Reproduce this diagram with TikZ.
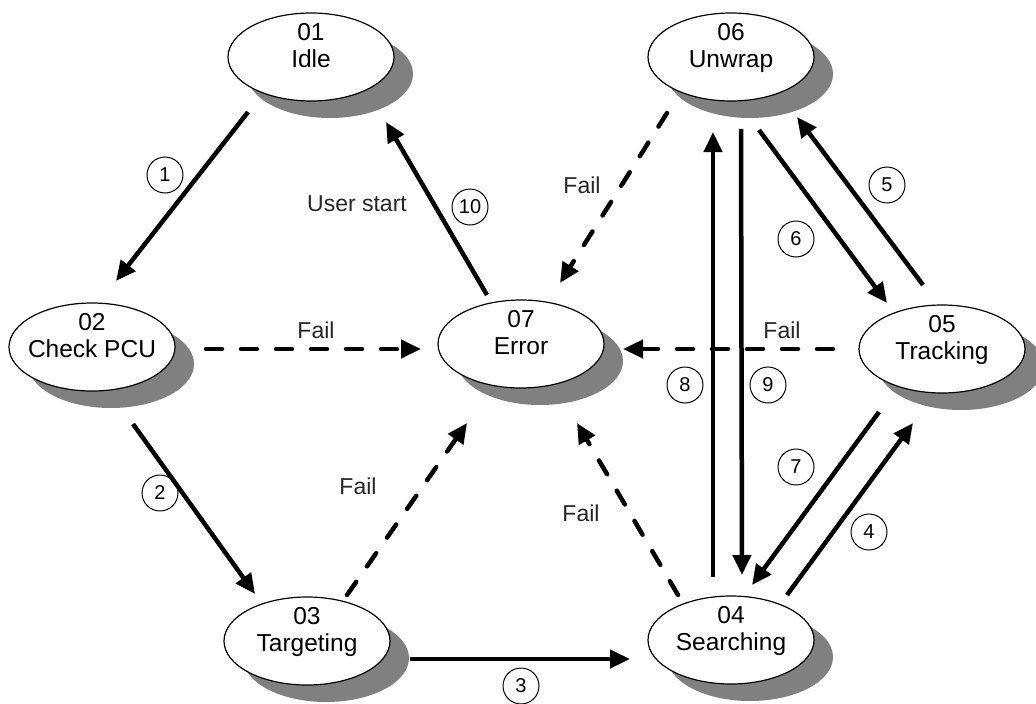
\documentclass[tikz,border=0pt]{standalone}
\usepackage{fontspec}
\setmainfont{Liberation Sans}
\usetikzlibrary{arrows.meta,shapes.geometric,shadows}
\definecolor{shadowgray}{HTML}{808080}
\begin{document}
\begin{tikzpicture}[x=1pt,y=-1pt,
  state/.style={ellipse,draw=black,line width=1.2pt,fill=white,minimum width=166pt,minimum height=88pt,inner sep=0pt,
    drop shadow={shadow xshift=19pt,shadow yshift=-17pt,fill=shadowgray,opacity=1}},
  stext/.style={align=center,font=\fontsize{24.5}{27}\selectfont,text depth=0pt,inner sep=0pt},
  arr/.style={line width=4.5pt,-{Triangle[length=20pt,width=18pt]}},
  darr/.style={arr,line cap=round,dash pattern=on 16pt off 19pt},
  num/.style={circle,draw=black,line width=1pt,minimum size=36pt,inner sep=0pt,font=\fontsize{20}{24}\selectfont},
  lbl/.style={font=\fontsize{23}{27}\selectfont,text=black!85,inner sep=0pt}]
\useasboundingbox (0,0) rectangle (1036,704);

% states
\node[state] (idle)   at (311,57)  {};
\node[state] (check)  at (92,347)  {};
\node[state] (error)  at (521,344) {};
\node[state] (unwrap) at (731,57)  {};
\node[state] (track)  at (942,349) {};
\node[state] (target) at (307,641) {};
\node[state] (search) at (731,640) {};

\node[stext] (idlet)   at ([yshift=12pt]idle.center)   {01\\Idle};
\node[stext] (checkt)  at ([yshift=12pt]check.center)  {02\\Check PCU};
\node[stext] (errort)  at ([yshift=12pt]error.center)  {07\\Error};
\node[stext] (unwrapt) at ([yshift=12pt]unwrap.center) {06\\Unwrap};
\node[stext] (trackt)  at ([yshift=12pt]track.center)  {05\\Tracking};
\node[stext] (targett) at ([yshift=12pt]target.center) {03\\Targeting};
\node[stext] (searcht) at ([yshift=12pt]search.center) {04\\Searching};

% solid transitions
\draw[arr] ([shift={(-63,55)}]idle.center) -- ([shift={(24,-66)}]check.center);
\draw[arr] ([shift={(-34,-49)}]error.center) -- ([shift={(75,65)}]idle.center);
\draw[arr] ([shift={(41,77)}]check.center) -- ([shift={(-52,-47)}]target.center);
\draw[arr] ([shift={(103,18)}]target.center) -- ([shift={(-101,19)}]search.center);
\draw[arr] ([shift={(-18,-63)}]search.center) -- ([shift={(-18,75)}]unwrap.center);
\draw[arr] ([shift={(10,72)}]unwrap.center) -- ([shift={(11,-65)}]search.center);
\draw[arr] ([shift={(28,73)}]unwrap.center) -- ([shift={(-55,-46)}]track.center);
\draw[arr] ([shift={(-19,-64)}]track.center) -- ([shift={(66,60)}]unwrap.center);
\draw[arr] ([shift={(-63,63)}]track.center) -- ([shift={(21,-55)}]search.center);
\draw[arr] ([shift={(56,-45)}]search.center) -- ([shift={(-29,74)}]track.center);

% fail transitions
\draw[darr] ([shift={(114,2)}]check.center) -- ([shift={(-100,5)}]error.center);
\draw[darr] ([shift={(40,-46)}]target.center) -- ([shift={(-54,79)}]error.center);
\draw[darr] ([shift={(-53,-45)}]search.center) -- ([shift={(56,79)}]error.center);
\draw[darr] ([shift={(-64,56)}]unwrap.center) -- ([shift={(39,-61)}]error.center);
\draw[darr] ([shift={(-109,0)}]track.center) -- ([shift={(102,5)}]error.center);

% numbers
\node[num] (n1)  at (165,175) {1};
\node[num] (n2)  at (160,493) {2};
\node[num] (n3)  at (521,686) {3};
\node[num] (n4)  at (869,532) {4};
\node[num] (n5)  at (887,185) {5};
\node[num] (n6)  at (796,239) {6};
\node[num] (n7)  at (796,467) {7};
\node[num] (n8)  at (685,385) {8};
\node[num] (n9)  at (768,385) {9};
\node[num] (n10) at (470,207) {10};

% labels
\node[lbl] (user) at (357,204) {User start};
\node[lbl] (f1) at (316,330) {Fail};
\node[lbl] (f2) at (582,185) {Fail};
\node[lbl] (f3) at (782,330) {Fail};
\node[lbl] (f4) at (358,486) {Fail};
\node[lbl] (f5) at (581,513) {Fail};
\end{tikzpicture}
\end{document}
